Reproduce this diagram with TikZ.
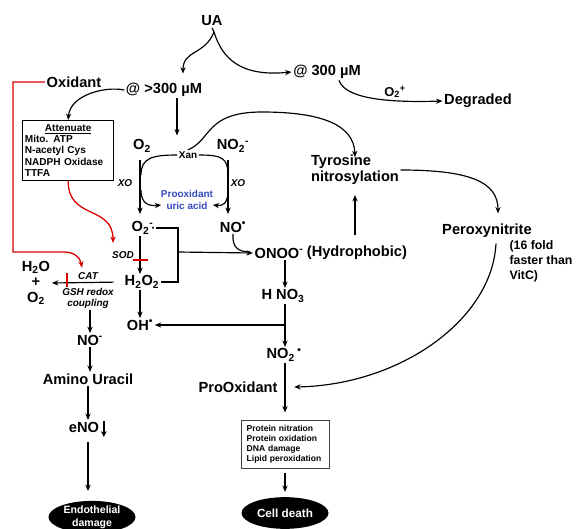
\documentclass[tikz,border=0pt]{standalone}
\usepackage{fontspec}
\setmainfont{Liberation Sans}
\usetikzlibrary{arrows.meta,shapes.geometric,calc}
\definecolor{problue}{RGB}{52,74,190}
\newcommand{\radi}{\textsuperscript{•}}
\newcommand{\mdot}{\,{\fontsize{6}{6}\selectfont\raisebox{0.35ex}{•}}}
\tikzset{
  lbl/.style={font=\fontsize{12.5}{14}\selectfont\bfseries, inner sep=1pt},
  tiny/.style={font=\fontsize{8.5}{9.5}\selectfont\bfseries, inner sep=1pt},
  enz/.style={font=\fontsize{8.5}{9.5}\selectfont\bfseries\itshape, inner sep=1pt},
  blk/.style={ellipse, fill=black, text=white, minimum width=2.61cm, minimum height=0.95cm,
    inner sep=0pt, align=center, font=\fontsize{9}{11}\selectfont\bfseries},
  flow/.style={->},
  inhib/.style={red!85!black, line width=1.1pt},
}
\begin{document}
\begin{tikzpicture}[x=0.03cm,y=-0.03cm,line width=1pt,>={Stealth[length=5.5pt,width=4.5pt]}]
\useasboundingbox (0,0) rectangle (582,529);
\coordinate (colA) at (140,0);
\coordinate (colB) at (285,0);
%% top
\node[lbl] (UA) at (212,21) {UA};
\node[lbl] (gtA) at (164,90) {@ >300 µM};
\node[lbl] (eqA) at (327,72) {@ 300 µM};
\node[lbl] (deg) at (478,101) {Degraded};
\node[lbl] (oxid) at (74,82) {Oxidant};
\node[font=\fontsize{11}{12}\selectfont\bfseries, inner sep=0pt] (o2p) at (395,92) {O\textsubscript{2}\textsuperscript{+}};
\coordinate (fork) at (214,32);
\draw (UA.south) -- (fork);
\draw[flow] (fork) .. controls (205,55) and (183,50) .. ($(gtA.north)+(19,-8)$);
\draw[flow] (fork) .. controls (222,58) and (240,77) .. (eqA.west);
\draw[flow] ($(eqA.south)+(12,0)$) .. controls (345,97) and (380,103) .. (deg.west);
%% attenuate box
\node[draw, line width=0.9pt, anchor=north west, text width=2.6cm, minimum height=1.8cm,
  inner sep=2pt, align=left, font=\fontsize{8.6}{9.8}\selectfont\bfseries] (att) at (22,120)
  {\makebox[\linewidth]{\underline{Attenuate}}\\Mito. ATP\\N-acetyl Cys\\NADPH Oxidase\\TTFA};
\draw[flow] (gtA.west) .. controls (105,86) and (70,95) .. (att.north);
%% xanthine cycle
\node[lbl] (O2) at (142,146) {O\textsubscript{2}};
\node[lbl] (NO2) at (233,146) {NO\textsubscript{2}\textsuperscript{-}};
\node[tiny, font=\fontsize{8.5}{9.5}\selectfont\bfseries] (Xan) at (188,155) {Xan};
\node[enz] (XOl) at (125,183) {XO};
\node[enz] (XOr) at (238,183) {XO};
\node[tiny, text=problue, align=center] (pro) at (187,200) {Prooxidant\\uric acid};
\node[lbl] (supox) at (143,228) {O\textsubscript{2}\rlap{\textsuperscript{-}}\mdot};
\node[lbl] (NOr) at (233,227) {NO\radi};
\draw[flow] (140,160) -- (140,214);
\draw[flow] (228,160) -- (228,214);
\draw (Xan.west) .. controls (152,155) and (141,158) .. (141,175);
\draw (Xan.east) .. controls (222,155) and (228,158) .. (228,175);
\draw[flow] (141,190) .. controls (141,205) and (150,206) .. ($(pro.west)+(2,5)$);
\draw[flow] (228,190) .. controls (228,205) and (222,206) .. ($(pro.east)+(-2,5)$);
\draw[flow] ($(gtA.south)+(13,0)$) -- ++(0,37);
%% nitrosylation branch
\node[lbl, align=left] (tyr) at (355,170) {Tyrosine\\nitrosylation};
\node[lbl] (perox) at (487,231) {Peroxynitrite};
\node[font=\fontsize{10.5}{13}\selectfont\bfseries, align=left, anchor=north west, inner sep=0pt] (fold) at (509,240) {(16 fold\\faster than\\VitC)};
\draw[flow] (Xan.north) .. controls (212,140) and (205,112) .. (262,112) .. controls (322,112) and (354,125) .. ($(tyr.north)+(0,4)$);
\draw[flow] (tyr.east) .. controls (470,170) and (498,182) .. ($(perox.north)+(11,-9)$);
%% superoxide / peroxide
\node[lbl] (onoo) at (279,253) {ONOO\textsuperscript{-}};
\node[lbl, anchor=west] (hydro) at (onoo.east) {(Hydrophobic)};
\node[lbl] (h2o2) at (142,282) {H\textsubscript{2}O\textsubscript{2}};
\node[enz] (sod) at (123,255) {SOD};
\node[enz] (cat) at (88,276) {CAT};
\node[enz, align=center] (gsh) at (88,298) {GSH redox\\coupling};
\node[lbl, align=center, font=\fontsize{12.5}{13.2}\selectfont\bfseries] (h2o) at (36,283) {H\textsubscript{2}O\\+\\O\textsubscript{2}};
\node[lbl] (ohr) at (140,325) {OH\radi};
\node[lbl] (hno3) at (283,296) {H NO\textsubscript{3}};
\node[lbl] (no2r) at (284,355) {NO\textsubscript{2}\,\radi};
\coordinate (brk) at (178,252);
\coordinate (mrg) at (250,252);
\draw (supox.east) -| (brk) |- (h2o2.east);
\draw[flow] (brk) -- (onoo.west);
\draw (NOr.south) .. controls (232,247) and (238,252) .. (mrg);
\draw[flow, shorten <=8pt, shorten >=7pt] (tyr.south |- hydro.north) -- (tyr.south);
\draw[flow] (supox.south -| colA) -- (h2o2.north -| colA);
\draw[inhib] (133,260) -- (148,260);
\draw[flow, shorten <=8pt] (h2o2.west) -- (h2o.east);
\draw[inhib] (67,273) -- (67,287);
\draw[flow] (h2o2.south -| colA) -- (ohr.north -| colA);
\draw[flow] (onoo.south -| colB) -- (hno3.north -| colB);
\draw[flow] (hno3.south -| colB) -- (no2r.north -| colB);
\draw[flow] (ohr.east -| colB) -- (ohr.east);
%% red routes
\draw[inhib,->] (oxid.west) -| (13,252) -- (64,252) .. controls (74,252) and (80,257) .. ($(cat.north)+(-6,-3)$);
\draw[inhib,->] (att.south) .. controls (68,220) and (113,205) .. (113,243);
%% left column
\node[lbl] (nom) at (90,340) {NO\textsuperscript{-}};
\node[lbl] (amino) at (88,379) {Amino Uracil};
\node[lbl] (eno) at (84,427) {eNO};
\node[blk] (endo) at (92,517) {Endothelial\\damage};
\draw[->, line width=1.4pt, >={Stealth[length=5pt,width=5pt]}] ($(eno.east)+(3,-6)$) -- ++(0,16);
\draw[flow] (gsh.south -| nom.north) -- (nom.north);
\draw[flow] (nom.south) -- (nom.south |- amino.north);
\draw[flow] (amino.south) -- (amino.south |- eno.north);
\draw[flow, shorten <=7pt, shorten >=8pt] (amino.south |- eno.south) -- (amino.south |- endo.north);
%% right column
\node[lbl] (prox) at (238,387) {ProOxidant};
\node[draw=black!75, line width=0.8pt, text width=2.3cm, minimum height=1.44cm, minimum width=2.64cm,
  inner sep=0pt, align=left, font=\fontsize{7.3}{8.5}\selectfont\bfseries] (eff) at (285,444)
  {Protein nitration\\Protein oxidation\\DNA damage\\Lipid peroxidation};
\node[blk, font=\fontsize{10}{12}\selectfont\bfseries] (death) at (285,513) {Cell death};
\draw[flow, shorten >=6pt] (no2r.south -| colB) -- (eff.north);
\draw[flow, shorten <=4pt, shorten >=4pt] (eff.south) -- (death.north);
\draw[flow] ($(perox.south)+(9,4)$) .. controls (492,320) and (400,385) .. ($(prox.east)+(15,0)$);
\end{tikzpicture}
\end{document}
